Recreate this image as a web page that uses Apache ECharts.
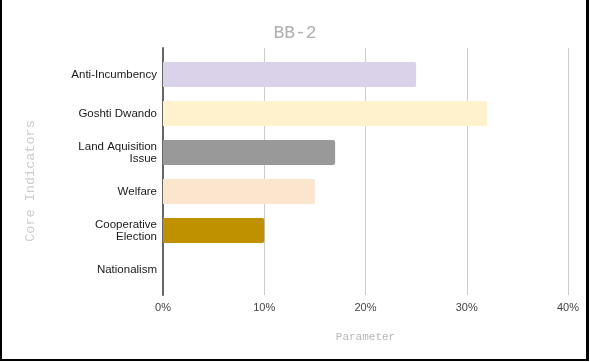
<!DOCTYPE html>
<html>
<head>
<meta charset="utf-8">
<script src="https://cdn.jsdelivr.net/npm/echarts@6/dist/echarts.min.js"></script>
<style>
html,body{margin:0;padding:0;background:#fff;}
#wrap{position:relative;width:590px;height:362px;}
#chart{width:590px;height:362px;}
#frame{position:absolute;left:0;top:-5px;width:589px;height:366px;border-left:2px solid #000;border-right:3px solid #000;border-bottom:2px solid #000;box-sizing:border-box;pointer-events:none;}
</style>
</head>
<body>
<div id="wrap"><div id="chart"></div><div id="frame"></div></div>
<script>
var categories = ['Anti-Incumbency', 'Goshti Dwando', 'Land Aquisition\nIssue', 'Welfare', 'Cooperative\nElection', 'Nationalism'];
var values = [25, 32, 17, 15, 10, 0];
var barColors = ['#d9d2e9', '#fff2cc', '#999999', '#fce5cd', '#bf9000', '#cccccc'];
var xTicks = [0, 10, 20, 30, 40];
var titleText = 'BB-2';
var xTitle = 'Parameter';
var yTitle = 'Core Indicators';

var chart = echarts.init(document.getElementById('chart'), null, {renderer: 'canvas'});
var mono = '"Liberation Mono", "DejaVu Sans Mono", monospace';
var sans = '"Liberation Sans", Arial, sans-serif';

chart.setOption({
  animation: false,
  title: {
    text: titleText, left: 'center', top: 19,
    textStyle: {fontFamily: mono, fontSize: 18, fontWeight: 'normal', color: '#b0b0b0'}
  },
  graphic: [{
    type: 'text', x: 30, y: 181, rotation: Math.PI / 2,
    style: {text: yTitle, fontFamily: mono, fontSize: 13.5, fill: '#cccccc', align: 'center', verticalAlign: 'middle'}
  }],
  grid: [
    {left: 163, right: 22, top: 48, bottom: 67, containLabel: false},
    {left: 163, right: 22, top: 55, bottom: 73, containLabel: false}
  ],
  xAxis: [
    {
      gridIndex: 0, type: 'value', min: xTicks[0], max: xTicks[xTicks.length - 1], interval: 10,
      axisLine: {show: false}, axisTick: {show: false},
      splitLine: {show: true, lineStyle: {color: '#cccccc', width: 1}},
      axisLabel: {show: true, margin: 7, color: '#444444', fontFamily: sans, fontSize: 11, formatter: '{value}%'},
      name: xTitle, nameLocation: 'middle', nameGap: 37,
      nameTextStyle: {fontFamily: mono, fontSize: 11, color: '#b7b7b7'}
    },
    {
      gridIndex: 1, type: 'value', min: xTicks[0], max: xTicks[xTicks.length - 1], interval: 10,
      show: false
    }
  ],
  yAxis: [
    {
      gridIndex: 0, type: 'value', min: 0, max: 1,
      axisLine: {show: true, onZero: false, lineStyle: {color: '#666666', width: 2}},
      axisTick: {show: false}, axisLabel: {show: false}, splitLine: {show: false}
    },
    {
      gridIndex: 1, type: 'category', data: categories, inverse: true,
      axisLine: {show: false}, axisTick: {show: false}, splitLine: {show: false},
      axisLabel: {color: '#1a1a1a', fontFamily: sans, fontSize: 11.5, margin: 6, lineHeight: 12}
    }
  ],
  series: [{
    type: 'bar', xAxisIndex: 1, yAxisIndex: 1,
    data: values.map(function (v, i) { return {value: v, itemStyle: {color: barColors[i]}}; }),
    barWidth: 25,
    itemStyle: {borderRadius: [0, 2, 2, 0]}
  }]
});
</script>
</body>
</html>
